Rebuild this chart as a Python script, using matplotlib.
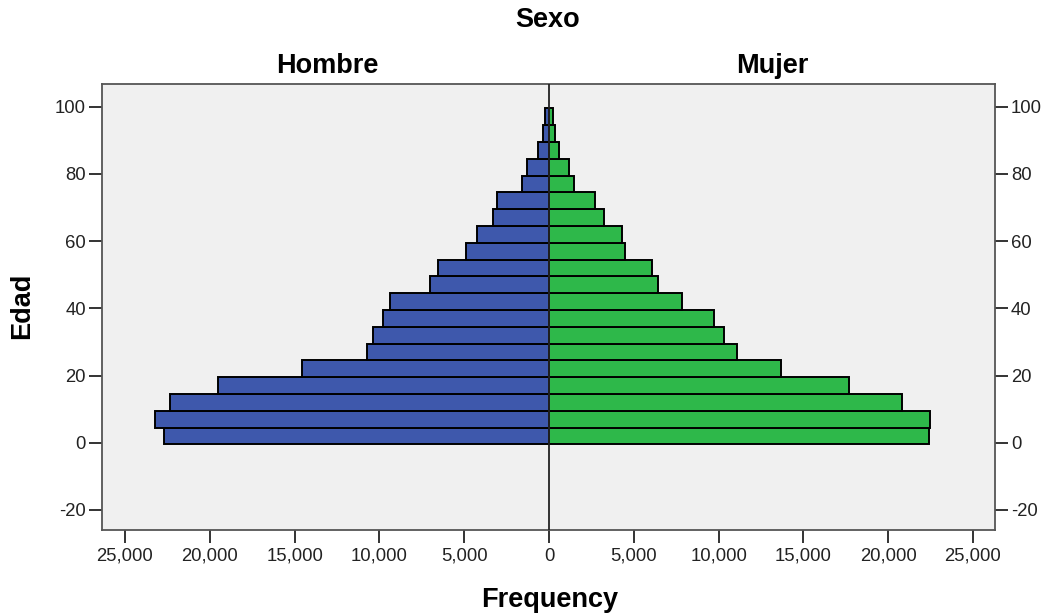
import numpy as np
import matplotlib.pyplot as plt
from matplotlib.ticker import FuncFormatter

# age groups (lower edge of each 5-year bin)
edades = [0, 5, 10, 15, 20, 25, 30, 35, 40, 45, 50, 55, 60, 65, 70, 75, 80, 85, 90, 95]
hombre = [22690, 23230, 22330, 19500, 14550, 10740, 10390, 9800, 9370, 7010,
          6540, 4890, 4220, 3320, 3050, 1590, 1310, 670, 370, 240]
mujer = [22420, 22450, 20800, 17700, 13690, 11090, 10330, 9710, 7850, 6410,
         6080, 4490, 4310, 3260, 2690, 1450, 1180, 590, 350, 240]
xticks = [-25000, -20000, -15000, -10000, -5000, 0, 5000, 10000, 15000, 20000, 25000]
yticks = [-20, 0, 20, 40, 60, 80, 100]

plt.rcParams['font.family'] = ['Liberation Sans', 'DejaVu Sans']
plt.rcParams['axes.unicode_minus'] = False

fig = plt.figure(figsize=(10.49, 6.16), dpi=100)
ax = fig.add_axes([0.0972, 0.1388, 0.8513, 0.7248])
ax.set_facecolor('#f0f0f0')

centros = np.array(edades) + 2
ax.barh(centros, -np.array(hombre), height=5, color='#3e58ac', edgecolor='black', linewidth=1.4)
ax.barh(centros, mujer, height=5, color='#2eb84a', edgecolor='black', linewidth=1.4)
ax.axvline(0, color='#222222', linewidth=1.3, zorder=3)

ax.set_xlim(-26356, 26297)
ax.set_ylim(-26.1, 106.75)
ax.set_xticks(xticks)
ax.xaxis.set_major_formatter(FuncFormatter(lambda v, p: '{:,.0f}'.format(abs(v))))
ax.set_yticks(yticks)
ax.tick_params(axis='both', direction='out', length=9.5, width=1.4, color='#333333',
               labelsize=13.3, labelcolor='#222222', pad=2)
ax.tick_params(axis='x', pad=3)
ax.tick_params(axis='y', right=True, labelright=True)
for s in ax.spines.values():
    s.set_color('#555555')
    s.set_linewidth(1.3)

fig.text(550 / 1049, 1 - 600 / 616, 'Frequency', ha='center', va='center', fontsize=19.5, fontweight='bold')
fig.text(22 / 1049, 1 - 306 / 616, 'Edad', ha='center', va='center', rotation=90,
         fontsize=19.5, fontweight='bold')
fig.text(548 / 1049, 1 - 20 / 616, 'Sexo', ha='center', va='center', fontsize=19.5, fontweight='bold')
fig.text(327 / 1049, 1 - 66 / 616, 'Hombre', ha='center', va='center', fontsize=19.5, fontweight='bold')
fig.text(772 / 1049, 1 - 66 / 616, 'Mujer', ha='center', va='center', fontsize=19.5, fontweight='bold')

plt.savefig('out.png', dpi=100)
